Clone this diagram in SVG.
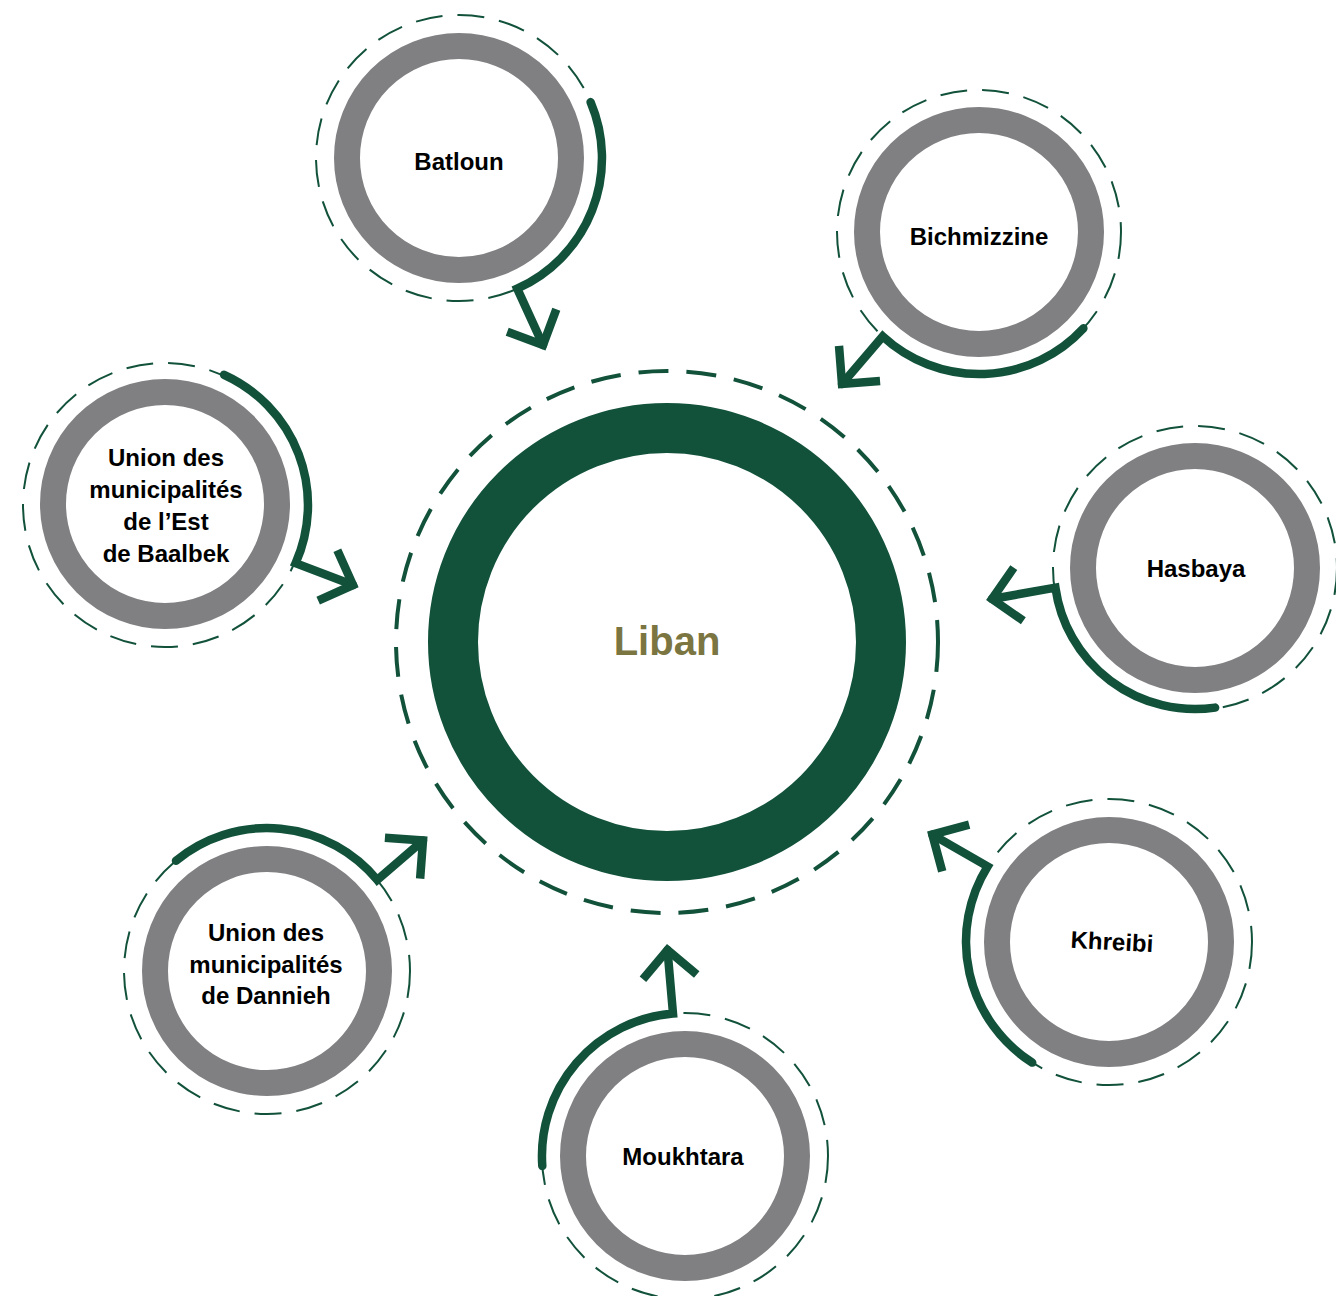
<svg xmlns="http://www.w3.org/2000/svg" width="1336" height="1296" viewBox="0 0 1336 1296">
<style>
.ring{fill:#fff;stroke:#808083;stroke-width:26}
.dash{fill:none;stroke:#12523b;stroke-width:2;stroke-dasharray:27 15}
.lbl{font-family:"Liberation Sans",Arial,sans-serif;font-weight:bold;font-size:24px;fill:#000;text-anchor:middle}
.conn{fill:none;stroke:#12523b;stroke-width:8.5;stroke-linecap:round;stroke-linejoin:miter;marker-end:url(#chev)}
</style>
<defs>
<marker id="chev" markerUnits="userSpaceOnUse" viewBox="-40 -40 60 80" markerWidth="60" markerHeight="80" refX="0" refY="0" orient="auto" overflow="visible">
<path d="M -27 -27 L 0 0 L -27 27" fill="none" stroke="#12523b" stroke-width="8.5" stroke-linejoin="miter" stroke-linecap="butt"/>
</marker>
</defs>

<g id="liban">
<circle cx="667" cy="642" r="271" fill="none" stroke="#12523b" stroke-width="4" stroke-dasharray="30 18"/>
<circle cx="667" cy="642" r="214" fill="#fff" stroke="#12523b" stroke-width="50"/>
<text x="667" y="655" font-family="'Liberation Sans',Arial,sans-serif" font-weight="bold" font-size="40" fill="#7b7542" text-anchor="middle">Liban</text>
</g>

<g id="batloun">
<circle class="dash" cx="459" cy="158" r="143"/>
<circle class="ring" cx="459" cy="158" r="112"/>
<text class="lbl" x="459" y="170">Batloun</text>
</g>

<g id="bichmizzine">
<circle class="dash" cx="979" cy="232" r="142"/>
<circle class="ring" cx="979" cy="232" r="112"/>
<text class="lbl" x="979" y="245">Bichmizzine</text>
</g>

<g id="baalbek">
<circle class="dash" cx="165" cy="505" r="142"/>
<circle class="ring" cx="165" cy="504" r="112"/>
<text class="lbl" x="166" y="466">Union des</text>
<text class="lbl" x="166" y="498">municipalités</text>
<text class="lbl" x="166" y="530">de l’Est</text>
<text class="lbl" x="166" y="562">de Baalbek</text>
</g>

<g id="hasbaya">
<circle class="dash" cx="1195" cy="568" r="142"/>
<circle class="ring" cx="1195" cy="568" r="112"/>
<text class="lbl" x="1196" y="577">Hasbaya</text>
</g>

<g id="dannieh">
<circle class="dash" cx="267" cy="971" r="143"/>
<circle class="ring" cx="267" cy="971" r="112"/>
<text class="lbl" x="266" y="941">Union des</text>
<text class="lbl" x="266" y="973">municipalités</text>
<text class="lbl" x="266" y="1004">de Dannieh</text>
</g>

<g id="moukhtara">
<circle class="dash" cx="685" cy="1156" r="143"/>
<circle class="ring" cx="685" cy="1156" r="112"/>
<text class="lbl" x="683" y="1165">Moukhtara</text>
</g>

<g id="khreibi">
<circle class="dash" cx="1109" cy="942" r="143"/>
<circle class="ring" cx="1109" cy="942" r="112"/>
<text class="lbl" x="1112" y="950" transform="rotate(3 1112 942)">Khreibi</text>
</g>

<g id="connectors">
<path class="conn" d="M 590.6 102.1 A 143 143 0 0 1 517.2 288.6 L 543 345"/>
<path class="conn" d="M 1083.4 328.3 A 142 142 0 0 1 882.7 336.4 L 842 384"/>
<path class="conn" d="M 224.1 374.8 A 143 143 0 0 1 295.6 563.2 L 353 585"/>
<path class="conn" d="M 1215.1 707.6 A 141 141 0 0 1 1055.4 587.6 L 992 599"/>
<path class="conn" d="M 176 860.7 A 143 143 0 0 1 377.2 879.9 L 423 840.5"/>
<path class="conn" d="M 542.3 1166 A 143 143 0 0 1 673 1013.5 L 667.5 950"/>
<path class="conn" d="M 1032.2 1062.6 A 143 143 0 0 1 987.6 866.4 L 932.3 834.6"/>
</g>
</svg>
